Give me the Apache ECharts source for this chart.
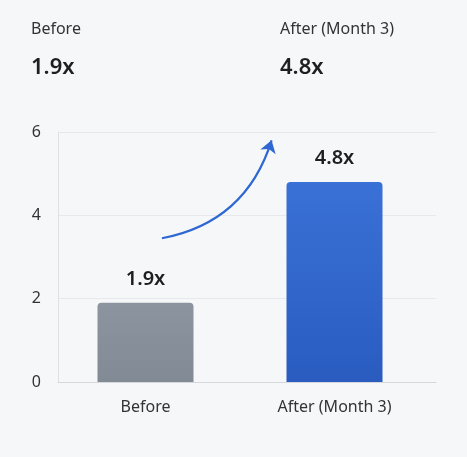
<!DOCTYPE html>
<html><head><meta charset="utf-8">
<script src="https://cdn.jsdelivr.net/npm/echarts@6/dist/echarts.min.js"></script>
<style>html,body{margin:0;padding:0;background:#f6f7f8;}#c{width:467px;height:457px;}</style>
</head><body><div id="c"></div>
<script>
const categories = ['Before', 'After (Month 3)'];
const values = [1.9, 4.8];
const valueLabels = ['1.9x', '4.8x'];
const yTicks = [0, 2, 4, 6];
const arrowPath = [[0.55, 3.45], [1.13, 5.8]];

const chart = echarts.init(document.getElementById('c'), null, {renderer: 'canvas'});
const font = '"Noto Sans", Inter, sans-serif';
chart.setOption({
  backgroundColor: '#f6f7f8',
  animation: false,
  title: [
    {text: categories[0], left: 26, top: 16, textStyle: {fontFamily: font, fontSize: 16, fontWeight: 400, color: '#333'}},
    {text: valueLabels[0], left: 26, top: 52, textStyle: {fontFamily: font, fontSize: 22, fontWeight: 600, color: '#1f1f1f'}},
    {text: categories[1], left: 275, top: 16, textStyle: {fontFamily: font, fontSize: 16, fontWeight: 400, color: '#333'}},
    {text: valueLabels[1], left: 275, top: 52, textStyle: {fontFamily: font, fontSize: 22, fontWeight: 600, color: '#1f1f1f'}}
  ],
  grid: {left: 58, right: 31, top: 132, bottom: 75},
  xAxis: [{
    type: 'category', data: categories,
    axisLine: {lineStyle: {color: '#d4d7dc'}},
    axisTick: {show: false},
    axisLabel: {fontFamily: font, fontSize: 16, color: '#333', margin: 17, padding: [0, 14, 0, 0]}
  }, {
    type: 'value', min: 0, max: 2, show: false
  }],
  yAxis: {
    type: 'value', min: 0, max: 6, interval: 2,
    axisLine: {show: true, lineStyle: {color: '#dde0e4'}},
    axisTick: {show: false},
    splitLine: {lineStyle: {color: '#e6e8eb'}},
    axisLabel: {fontFamily: font, fontSize: 16, color: '#333', margin: 17,
      formatter: v => yTicks.includes(v) ? String(v) : ''}
  },
  series: [{
    type: 'bar',
    barWidth: 96,
    barGap: '0%',
    data: values.map((v, i) => ({
      value: v,
      itemStyle: {
        color: i === 0 ? new echarts.graphic.LinearGradient(0,0,0,1,[{offset:0,color:'#8c94a0'},{offset:1,color:'#828a96'}])
                       : new echarts.graphic.LinearGradient(0,0,0,1,[{offset:0,color:'#3a71d6'},{offset:1,color:'#2a5cc0'}]),
        borderRadius: [4,4,0,0]
      }
    })),
    label: {show: true, position: 'top', distance: 14, fontFamily: font, fontSize: 20, fontWeight: 600, color: '#1f1f1f',
      formatter: p => valueLabels[p.dataIndex]}
  }, {
    type: 'bar',
    barWidth: 14,
    silent: true,
    data: values.map(() => null)
  }, {
    type: 'lines',
    coordinateSystem: 'cartesian2d',
    xAxisIndex: 1,
    symbol: ['none', 'arrow'],
    symbolSize: 12,
    lineStyle: {color: '#2f68d2', width: 2.2, curveness: -0.3, opacity: 1},
    data: [{coords: arrowPath}]
  }]
});
</script></body></html>
